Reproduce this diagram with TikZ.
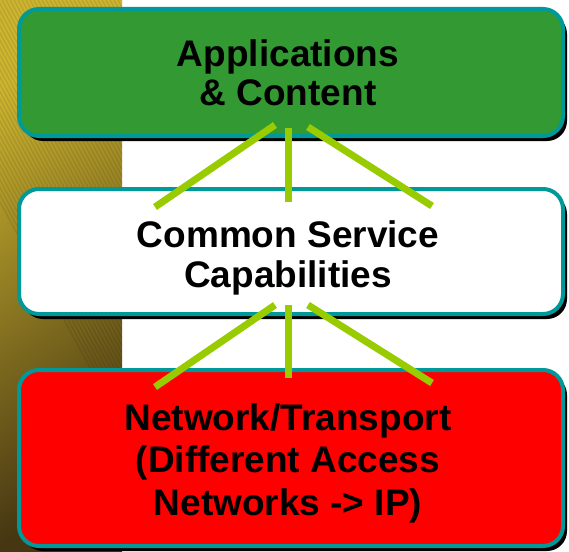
\documentclass[tikz,border=0pt]{standalone}
\usepackage{fontspec}
\setmainfont{Liberation Sans}
\usetikzlibrary{positioning,shadows}

\definecolor{tealedge}{HTML}{009999}
\definecolor{appgreen}{HTML}{339933}
\definecolor{netred}{HTML}{FF0000}
\definecolor{linkgreen}{HTML}{99CC00}
\definecolor{stripgold}{HTML}{CDB530}
\definecolor{stripbrown}{HTML}{463612}

\begin{document}
\begin{tikzpicture}[
    x=1pt, y=1pt,
    layer/.style={draw=tealedge, line width=4pt, rounded corners=20pt,
      minimum width=544pt,
      drop shadow={shadow xshift=4pt, shadow yshift=-5pt, fill=black, opacity=1}},
    layertext/.style={align=center, font=\fontsize{37}{39}\selectfont\bfseries},
    link/.style={draw=linkgreen, line width=7pt}
]
  \useasboundingbox (0,0) rectangle (569,-551);
  \fill[white] (0,0) rectangle (569,-551);

  % textured strip on the left
  \shade[top color=stripgold, bottom color=stripbrown, shading angle=35]
    (0,0) rectangle (122,-551);
  \begin{scope}
    \clip (0,0) rectangle (122,-551);
    \foreach \s in {-110,-106,...,130}
      \draw[black, opacity=0.09, line width=1.4pt] (\s,0) -- ++(300,-551);
  \end{scope}

  % the three layers
  \node[layer, fill=appgreen, minimum height=127pt] (apps) at (291,-72.5) {};
  \node[layer, fill=white, minimum height=125pt, below=49pt of apps] (common) {};
  \node[layer, fill=netred, minimum height=176pt, below=52pt of common] (network) {};

  \node[layertext] (apps-label) at ([xshift=-3pt]apps.center) {Applications\\\& Content};
  \node[layertext, font=\fontsize{37}{40}\selectfont\bfseries] (common-label)
    at ([xshift=-3pt,yshift=-6pt]common.center) {Common Service\\Capabilities};
  \node[layertext, font=\fontsize{37}{42.5}\selectfont\bfseries] (network-label)
    at ([xshift=-3pt,yshift=-5pt]network.center) {Network/Transport\\(Different Access\\Networks -> IP)};

  % links between layers
  \draw[link] ([xshift=-16pt,yshift=13pt]apps.south) -- ([xshift=-136pt,yshift=-20pt]common.north);
  \draw[link] ([xshift=-3pt,yshift=10pt]apps.south) -- ([xshift=-3pt,yshift=-15pt]common.north);
  \draw[link] ([xshift=17pt,yshift=11pt]apps.south) -- ([xshift=141pt,yshift=-19pt]common.north);

  \draw[link] ([xshift=-16pt,yshift=11pt]common.south) -- ([xshift=-136pt,yshift=-19pt]network.north);
  \draw[link] ([xshift=-3pt,yshift=11pt]common.south) -- ([xshift=-3pt,yshift=-10pt]network.north);
  \draw[link] ([xshift=17pt,yshift=11pt]common.south) -- ([xshift=141pt,yshift=-15pt]network.north);
\end{tikzpicture}
\end{document}
